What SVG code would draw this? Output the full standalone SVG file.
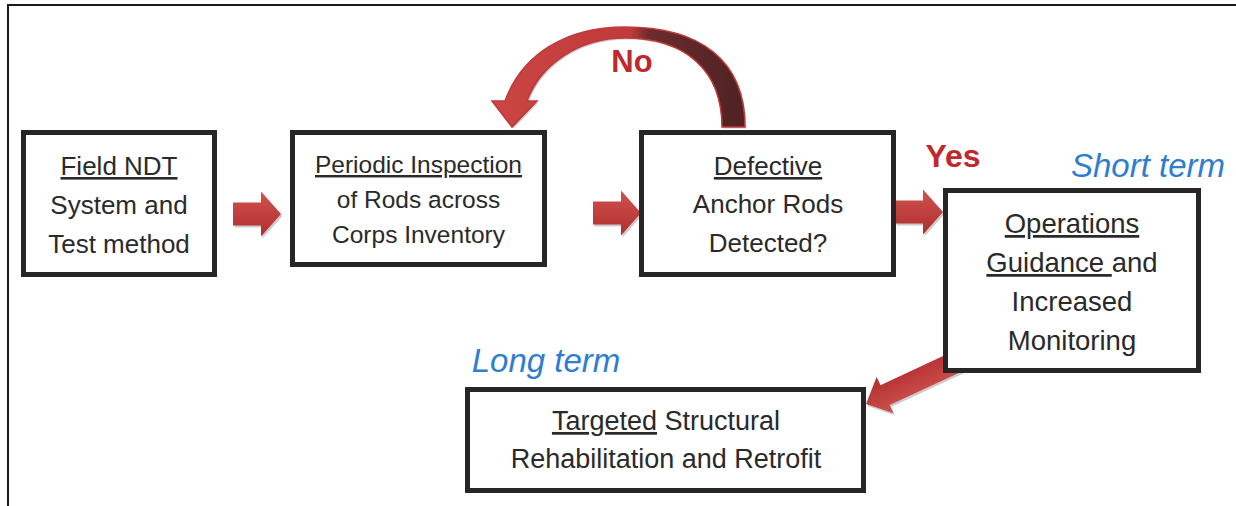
<svg xmlns="http://www.w3.org/2000/svg" width="1236" height="506" viewBox="0 0 1236 506">
<defs>
<linearGradient id="gArrow" x1="0" y1="0" x2="0" y2="1">
<stop offset="0" stop-color="#d0524f"/>
<stop offset="1" stop-color="#b02e2e"/>
</linearGradient>
<linearGradient id="gCurve" gradientUnits="userSpaceOnUse" x1="492" y1="0" x2="745" y2="0">
<stop offset="0" stop-color="#cb4543"/>
<stop offset="0.55" stop-color="#c03a3a"/>
<stop offset="0.62" stop-color="#6a2c2c"/>
<stop offset="1" stop-color="#4f2223"/>
</linearGradient>
<path id="arrowShort" d="M-48,-11.5 H-20 V-22.5 L0,0 L-20,22.5 V11.5 H-48 Z"/>
<path id="arrowLong" d="M-112,-11 H-21 V-20 L0,0 L-21,20 V11 H-112 Z"/>
</defs>
<style>
.box{fill:#fff;stroke:#262626;stroke-width:5}
.t{font-family:"Liberation Sans",Arial,sans-serif;fill:#2a2a2a;text-anchor:middle}
.u{text-decoration:underline}
.arrow{fill:url(#gArrow)}
.shadow{fill:#9a9a9a;opacity:.5}
.red{font-family:"Liberation Sans",Arial,sans-serif;font-weight:bold;fill:#c0282e}
.blue{font-family:"Liberation Sans",Arial,sans-serif;font-style:italic;fill:#2f7dd1}
</style>
<rect width="1236" height="506" fill="#fff"/>
<path d="M8,506 V5 H1236" fill="none" stroke="#1a1a1a" stroke-width="2"/>

<g id="connectors">
<use href="#arrowShort" class="shadow" transform="translate(282.5,216)"/>
<use href="#arrowShort" class="arrow" transform="translate(281,214)"/>
<use href="#arrowShort" class="shadow" transform="translate(642.5,215)"/>
<use href="#arrowShort" class="arrow" transform="translate(641,213)"/>
<use href="#arrowShort" class="shadow" transform="translate(944.5,214)"/>
<use href="#arrowShort" class="arrow" transform="translate(943,212)"/>
<use href="#arrowLong" class="shadow" transform="translate(867.5,406) rotate(155)"/>
<use href="#arrowLong" class="arrow" transform="translate(866,404) rotate(155)"/>
<path class="shadow" transform="translate(1.5,1.5)" d="M745,127 C745,60 700,27 625,27 C565,27 522,55 505,101 L492,101 L512,127 L537,101 L527,101 C540,65 578,38 625,38 C685,38 722,70 722,127 Z"/>
<path d="M745,127 C745,60 700,27 625,27 C565,27 522,55 505,101 L492,101 L512,127 L537,101 L527,101 C540,65 578,38 625,38 C685,38 722,70 722,127 Z" fill="url(#gCurve)" stroke="#c0393b" stroke-width="1.5"/>
<text class="red" x="632" y="72" font-size="31" text-anchor="middle">No</text>
<text class="red" x="953" y="167" font-size="32" text-anchor="middle">Yes</text>
</g>

<text class="blue" x="1148" y="177" font-size="33" text-anchor="middle">Short term</text>
<text class="blue" x="546" y="372" font-size="33" text-anchor="middle">Long term</text>

<g id="node-field-ndt">
<rect class="box" x="23.5" y="132.5" width="191" height="142"/>
<text class="t" font-size="26"><tspan x="119" y="175" class="u">Field NDT</tspan><tspan x="119" y="214">System and</tspan><tspan x="119" y="253">Test method</tspan></text>
</g>

<g id="node-periodic-inspection">
<rect class="box" x="292.5" y="132.5" width="252" height="132"/>
<text class="t" font-size="24.5"><tspan x="418.5" y="173" class="u">Periodic Inspection</tspan><tspan x="418.5" y="208">of Rods across</tspan><tspan x="418.5" y="243">Corps Inventory</tspan></text>
</g>

<g id="node-defective">
<rect class="box" x="641.5" y="132.5" width="252" height="142"/>
<text class="t" font-size="26"><tspan x="768" y="175" class="u">Defective</tspan><tspan x="768" y="213">Anchor Rods</tspan><tspan x="768" y="252">Detected?</tspan></text>
</g>

<g id="node-operations">
<rect class="box" x="945.5" y="190.5" width="253" height="180"/>
<text class="t" font-size="27.5"><tspan x="1072" y="233" class="u">Operations</tspan><tspan x="1072" y="272"><tspan class="u">Guidance&#160;</tspan>and</tspan><tspan x="1072" y="311">Increased</tspan><tspan x="1072" y="350">Monitoring</tspan></text>
</g>

<g id="node-targeted">
<rect class="box" x="467.5" y="389.5" width="396" height="101"/>
<text class="t" font-size="27"><tspan x="666" y="430"><tspan class="u">Targeted</tspan> Structural</tspan><tspan x="666" y="468">Rehabilitation and Retrofit</tspan></text>
</g>
</svg>
